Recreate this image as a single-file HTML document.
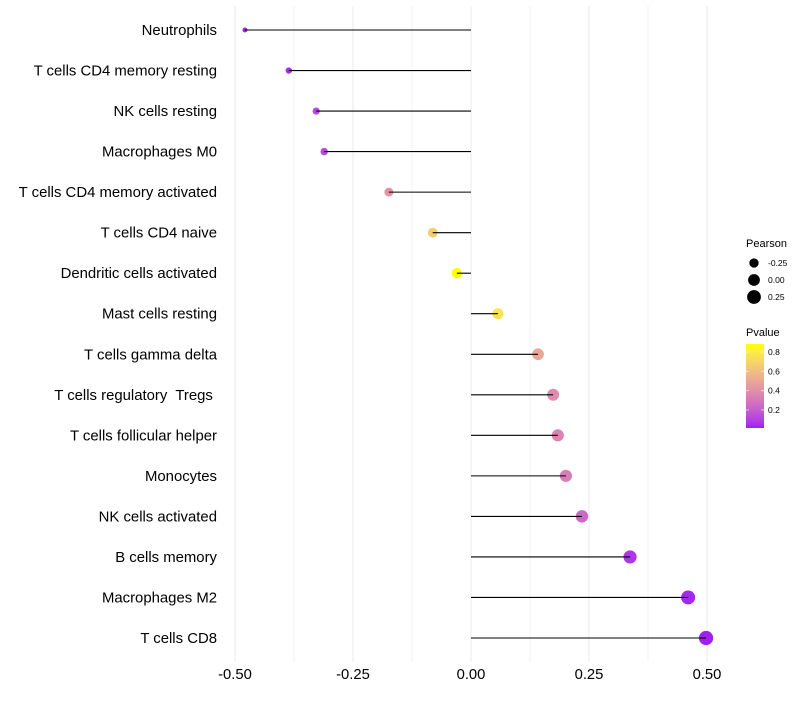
<!DOCTYPE html>
<html><head><meta charset="utf-8"><style>
body{margin:0;background:#fff;font-family:"Liberation Sans",sans-serif;}
svg text{font-family:"Liberation Sans",sans-serif;white-space:pre;}
</style></head><body>
<svg id="c" width="800" height="700" xmlns="http://www.w3.org/2000/svg"></svg>
<script>
const categories=["Neutrophils","T cells CD4 memory resting","NK cells resting","Macrophages M0","T cells CD4 memory activated","T cells CD4 naive","Dendritic cells activated","Mast cells resting","T cells gamma delta","T cells regulatory  Tregs ","T cells follicular helper","Monocytes","NK cells activated","B cells memory","Macrophages M2","T cells CD8"];
const pearson=[-0.479,-0.386,-0.328,-0.311,-0.174,-0.081,-0.030,0.057,0.142,0.174,0.184,0.201,0.235,0.337,0.460,0.498];
const pvalues=[0.02,0.05,0.12,0.12,0.42,0.66,0.883,0.76,0.50,0.38,0.35,0.33,0.24,0.07,0.03,0.013];
const xTicks=[-0.5,-0.25,0,0.25,0.5];
const xTickLabels=["-0.50","-0.25","0.00","0.25","0.50"];
const sizeLegend=[-0.25,0,0.25];
const sizeLegendLabels=["-0.25","0.00","0.25"];
const pTicks=[0.2,0.4,0.6,0.8];

const NS="http://www.w3.org/2000/svg";
const svg=document.getElementById('c');
function el(t,a,p){const e=document.createElementNS(NS,t);for(const k in a)e.setAttribute(k,a[k]);(p||svg).appendChild(e);return e;}
const x=v=>471+v*472;
const y=i=>30+i*(608/15);
const pmin=0.013,pmax=0.883;
function hex2rgb(h){return [1,3,5].map(i=>parseInt(h.substr(i,2),16)/255);}
function lin(c){return c<=0.04045?c/12.92:Math.pow((c+0.055)/1.055,2.4);}
function delin(c){return c<=0.0031308?12.92*c:1.055*Math.pow(c,1/2.4)-0.055;}
function toLab(h){const [r,g,b]=hex2rgb(h).map(lin);let X=(0.4124*r+0.3576*g+0.1805*b)/0.95047,Y=0.2126*r+0.7152*g+0.0722*b,Z=(0.0193*r+0.1192*g+0.9505*b)/1.08883;const f=t=>t>0.008856?Math.cbrt(t):7.787*t+16/116;return [116*f(Y)-16,500*(f(X)-f(Y)),200*(f(Y)-f(Z))];}
function fromLab(L,a,b){const fy=(L+16)/116,fx=fy+a/500,fz=fy-b/200;const fi=t=>t*t*t>0.008856?t*t*t:(t-16/116)/7.787;const X=fi(fx)*0.95047,Y=fi(fy),Z=fi(fz)*1.08883;let r=3.2406*X-1.5372*Y-0.4986*Z,g=-0.9689*X+1.8758*Y+0.0415*Z,bb=0.0557*X-0.2040*Y+1.0570*Z;return 'rgb('+[r,g,bb].map(c=>Math.round(Math.max(0,Math.min(1,delin(c)))*255)).join(',')+')';}
const LA=toLab('#A020F0'),LB=toLab('#FFFF00');
function col(p){const t=Math.max(0,Math.min(1,(p-pmin)/(pmax-pmin)));return fromLab(LA[0]+(LB[0]-LA[0])*t,LA[1]+(LB[1]-LA[1])*t,LA[2]+(LB[2]-LA[2])*t);}
const rad=v=>Math.sqrt(Math.max(3,28+46*v));

for(let v=-0.5;v<=0.5001;v+=0.125){const g=el('line',{x1:x(v),x2:x(v),y1:6,y2:662,stroke:'#ebebeb','stroke-width':v*8%2===0?1:0.6});
}
xTicks.forEach((v,i)=>{const t=el('text',{x:x(v),y:679,'text-anchor':'middle','font-size':14.8,fill:'#000'});t.textContent=xTickLabels[i];
});
categories.forEach((c,i)=>{
 const t=el('text',{x:217,y:y(i)+5,'text-anchor':'end','font-size':14.9,fill:'#000'});t.textContent=c;
 
 const p=el('circle',{cx:x(pearson[i]),cy:y(i),r:rad(pearson[i]),fill:col(pvalues[i])});
 
 const s=el('line',{x1:x(0),x2:x(pearson[i]),y1:y(i),y2:y(i),stroke:'#000','stroke-width':1.1});
 
});
let tt=el('text',{x:746,y:247,'font-size':11});tt.textContent='Pearson';

sizeLegend.forEach((v,i)=>{const cy=263+i*17;
 const c=el('circle',{cx:754,cy:cy,r:rad(v)+0.6,fill:'#000'});
 const t=el('text',{x:768,y:cy+3,'font-size':8.5});t.textContent=sizeLegendLabels[i];});
tt=el('text',{x:746,y:336,'font-size':11});tt.textContent='Pvalue';

const defs=el('defs',{});const lg=el('linearGradient',{id:'pg',x1:0,y1:1,x2:0,y2:0},defs);
for(let k=0;k<=10;k++){el('stop',{offset:k/10,'stop-color':col(pmin+(pmax-pmin)*k/10)},lg);}
const bar=el('rect',{x:746,y:344,width:18,height:84,fill:'url(#pg)'});

pTicks.forEach(v=>{const yy=428-(v-pmin)/(pmax-pmin)*84;
 el('line',{x1:746,x2:749,y1:yy,y2:yy,stroke:'#fff','stroke-opacity':0.6});el('line',{x1:761,x2:764,y1:yy,y2:yy,stroke:'#fff','stroke-opacity':0.6});
 const t=el('text',{x:768,y:yy+3,'font-size':8.5});t.textContent=v.toFixed(1);});
</script>
</body></html>
